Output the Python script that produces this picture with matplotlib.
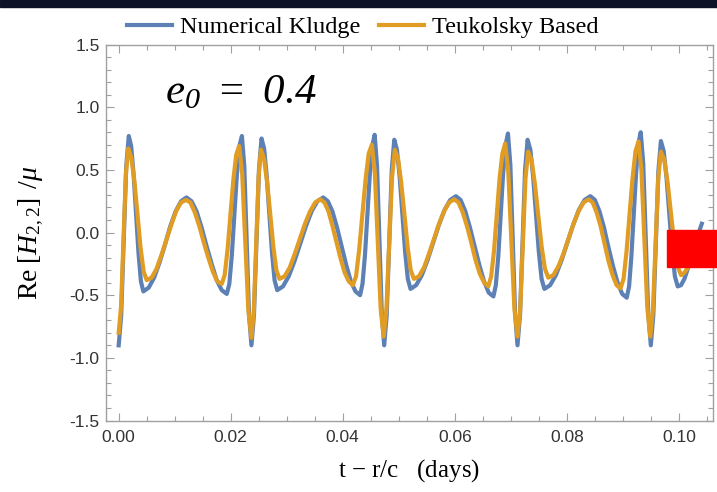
import matplotlib
matplotlib.use("Agg")
import matplotlib.pyplot as plt
from matplotlib.patches import Rectangle
from matplotlib.ticker import MultipleLocator, FormatStrFormatter
from matplotlib.lines import Line2D

# waveform values (time in days, Re[H22]/mu)
t_nk = [0.0, 0.00045, 0.0009, 0.00135, 0.0018,
        0.00223, 0.00267, 0.0031, 0.00353, 0.00397, 0.0044,
        0.00536, 0.00633, 0.00729, 0.00825, 0.00921, 0.01018, 0.01114, 0.0121,
        0.0130, 0.0139, 0.0148, 0.0157, 0.0166, 0.0175, 0.0184, 0.0193,
        0.01975, 0.0202, 0.02065, 0.0211, 0.02155, 0.0220,
        0.022425, 0.02285, 0.023275, 0.0237,
        0.02415, 0.0246, 0.02505, 0.0255,
        0.02597, 0.02643, 0.0269, 0.02737, 0.02783, 0.0283,
        0.02933, 0.03035, 0.03138, 0.0324, 0.03343, 0.03445, 0.03548, 0.0365,
        0.03733, 0.03815, 0.03898, 0.0398, 0.04063, 0.04145, 0.04228, 0.0431,
        0.04353, 0.04397, 0.0444, 0.04483, 0.04527, 0.0457,
        0.046125, 0.04655, 0.046975, 0.0474,
        0.04785, 0.0483, 0.04875, 0.0492,
        0.04968, 0.05017, 0.05065, 0.05113, 0.05162, 0.0521,
        0.05311, 0.05413, 0.05514, 0.05615, 0.05716, 0.05818, 0.05919, 0.0602,
        0.06104, 0.06188, 0.06271, 0.06355, 0.06439, 0.06523, 0.06606, 0.0669,
        0.06733, 0.06777, 0.0682, 0.06863, 0.06907, 0.0695,
        0.069925, 0.07035, 0.070775, 0.0712,
        0.07165, 0.0721, 0.07255, 0.0730,
        0.0735, 0.0740, 0.0745, 0.0750, 0.0755, 0.0760,
        0.07703, 0.07805, 0.07908, 0.0801, 0.08113, 0.08215, 0.08318, 0.0842,
        0.08501, 0.08583, 0.08664, 0.08745, 0.08826, 0.08908, 0.08989, 0.0907,
        0.09112, 0.09153, 0.09195, 0.09237, 0.09278, 0.0932,
        0.09365, 0.0941, 0.09455, 0.0950,
        0.09545, 0.0959, 0.09635, 0.0968,
        0.0973, 0.0978, 0.0983, 0.0988, 0.0993, 0.0998,
        0.1004, 0.1010, 0.1016, 0.1022, 0.1028, 0.1034, 0.1041]
h_nk = [-0.90, -0.66, -0.07, 0.53, 0.77,
        0.69, 0.46, 0.15, -0.16, -0.39, -0.47,
        -0.44, -0.36, -0.24, -0.10, 0.05, 0.17, 0.25, 0.28,
        0.25, 0.17, 0.04, -0.11, -0.25, -0.38, -0.46, -0.49,
        -0.41, -0.18, 0.14, 0.46, 0.69, 0.77,
        0.53, -0.07, -0.66, -0.90,
        -0.66, -0.08, 0.51, 0.75,
        0.67, 0.45, 0.15, -0.16, -0.38, -0.46,
        -0.43, -0.35, -0.23, -0.09, 0.05, 0.17, 0.25, 0.28,
        0.25, 0.17, 0.04, -0.11, -0.26, -0.39, -0.47, -0.50,
        -0.41, -0.18, 0.14, 0.46, 0.69, 0.78,
        0.53, -0.06, -0.65, -0.90,
        -0.66, -0.08, 0.50, 0.74,
        0.66, 0.44, 0.15, -0.15, -0.37, -0.45,
        -0.42, -0.34, -0.22, -0.08, 0.06, 0.18, 0.26, 0.29,
        0.26, 0.17, 0.04, -0.11, -0.26, -0.39, -0.48, -0.51,
        -0.42, -0.19, 0.14, 0.47, 0.70, 0.79,
        0.54, -0.06, -0.65, -0.90,
        -0.66, -0.08, 0.50, 0.74,
        0.66, 0.44, 0.15, -0.15, -0.37, -0.45,
        -0.42, -0.34, -0.22, -0.08, 0.06, 0.18, 0.26, 0.29,
        0.26, 0.17, 0.04, -0.12, -0.27, -0.40, -0.49, -0.52,
        -0.43, -0.19, 0.14, 0.47, 0.71, 0.80,
        0.55, -0.05, -0.65, -0.90,
        -0.66, -0.09, 0.49, 0.73,
        0.65, 0.44, 0.15, -0.14, -0.35, -0.43,
        -0.42, -0.37, -0.29, -0.20, -0.11, -0.02, 0.07]

t_tb = [0.0, 0.000425, 0.00085, 0.001275, 0.0017,
        0.00225, 0.0028, 0.00335, 0.0039, 0.00445, 0.0050,
        0.00588, 0.00675, 0.00763, 0.0085, 0.00938, 0.01025, 0.01113, 0.0120,
        0.0128, 0.0136, 0.0144, 0.0152, 0.0160, 0.0168, 0.0176, 0.0184,
        0.01892, 0.01943, 0.01995, 0.02047, 0.02098, 0.0215,
        0.02205, 0.0226, 0.02315, 0.0237,
        0.024125, 0.02455, 0.024975, 0.0254,
        0.02595, 0.0265, 0.02705, 0.0276, 0.02815, 0.0287,
        0.02961, 0.03053, 0.03144, 0.03235, 0.03326, 0.03418, 0.03509, 0.0360,
        0.03673, 0.03745, 0.03818, 0.0389, 0.03963, 0.04035, 0.04108, 0.0418,
        0.04237, 0.04293, 0.0435, 0.04407, 0.04463, 0.0452,
        0.045725, 0.04625, 0.046775, 0.0473,
        0.0478, 0.0483, 0.0488, 0.0493,
        0.04987, 0.05043, 0.0510, 0.05157, 0.05213, 0.0527,
        0.0536, 0.0545, 0.0554, 0.0563, 0.0572, 0.0581, 0.0590, 0.0599,
        0.06066, 0.06143, 0.06219, 0.06295, 0.06371, 0.06448, 0.06524, 0.0660,
        0.0665, 0.0670, 0.0675, 0.0680, 0.0685, 0.0690,
        0.06955, 0.0701, 0.07065, 0.0712,
        0.071675, 0.07215, 0.072625, 0.0731,
        0.0737, 0.0743, 0.0749, 0.0755, 0.0761, 0.0767,
        0.0776, 0.0785, 0.0794, 0.0803, 0.0812, 0.0821, 0.0830, 0.0839,
        0.08461, 0.08533, 0.08604, 0.08675, 0.08746, 0.08818, 0.08889, 0.0896,
        0.09013, 0.09067, 0.0912, 0.09173, 0.09227, 0.0928,
        0.093325, 0.09385, 0.094375, 0.0949,
        0.095375, 0.09585, 0.096325, 0.0968,
        0.0974, 0.0980, 0.0986, 0.0992, 0.0998, 0.1004,
        0.1010, 0.1017, 0.1024, 0.1032, 0.1041]
h_tb = [-0.80, -0.59, -0.07, 0.46, 0.67,
        0.60, 0.41, 0.15, -0.12, -0.31, -0.38,
        -0.36, -0.29, -0.18, -0.06, 0.06, 0.17, 0.24, 0.26,
        0.24, 0.16, 0.05, -0.08, -0.20, -0.31, -0.39, -0.41,
        -0.34, -0.14, 0.14, 0.42, 0.62, 0.69,
        0.47, -0.08, -0.62, -0.84,
        -0.62, -0.09, 0.44, 0.66,
        0.59, 0.40, 0.15, -0.11, -0.30, -0.37,
        -0.35, -0.28, -0.17, -0.05, 0.07, 0.17, 0.24, 0.265,
        0.24, 0.17, 0.05, -0.08, -0.21, -0.32, -0.39, -0.42,
        -0.35, -0.14, 0.14, 0.42, 0.63, 0.70,
        0.48, -0.07, -0.61, -0.83,
        -0.61, -0.09, 0.44, 0.66,
        0.59, 0.40, 0.15, -0.11, -0.30, -0.37,
        -0.35, -0.28, -0.17, -0.05, 0.07, 0.17, 0.24, 0.265,
        0.24, 0.16, 0.05, -0.08, -0.22, -0.33, -0.40, -0.43,
        -0.35, -0.15, 0.14, 0.43, 0.63, 0.71,
        0.49, -0.06, -0.61, -0.83,
        -0.62, -0.09, 0.43, 0.645,
        0.58, 0.39, 0.14, -0.11, -0.29, -0.36,
        -0.34, -0.27, -0.17, -0.05, 0.07, 0.17, 0.24, 0.265,
        0.24, 0.16, 0.05, -0.09, -0.23, -0.34, -0.42, -0.445,
        -0.37, -0.15, 0.14, 0.43, 0.65, 0.725,
        0.50, -0.05, -0.60, -0.83,
        -0.62, -0.09, 0.43, 0.645,
        0.58, 0.40, 0.15, -0.09, -0.27, -0.34,
        -0.32, -0.275, -0.20, -0.10, 0.0]

x_ticks = [0.00, 0.02, 0.04, 0.06, 0.08, 0.10]
y_ticks = [-1.5, -1.0, -0.5, 0.0, 0.5, 1.0, 1.5]

BLUE = "#5e81b5"
ORANGE = "#e19c24"
FRAME = "#a0a0a0"

plt.rcParams["mathtext.fontset"] = "custom"
plt.rcParams["mathtext.rm"] = "Liberation Serif"
plt.rcParams["mathtext.it"] = "Liberation Serif:italic"
plt.rcParams["mathtext.bf"] = "Liberation Serif:bold"
plt.rcParams["mathtext.sf"] = "Liberation Serif:italic"

fig = plt.figure(figsize=(7.17, 4.92), dpi=100)
ax = fig.add_axes([0.1478, 0.1453, 0.8466, 0.7642])

ax.plot(t_nk, h_nk, color=BLUE, lw=3.0, solid_joinstyle="round")
ax.plot(t_tb, h_tb, color=ORANGE, lw=3.0, solid_joinstyle="round")

ax.set_xlim(-0.00227, 0.1061)
ax.set_ylim(-1.5, 1.5)
ax.set_xticks(x_ticks)
ax.set_yticks(y_ticks)
ax.xaxis.set_minor_locator(MultipleLocator(0.005))
ax.yaxis.set_minor_locator(MultipleLocator(0.1))
ax.xaxis.set_major_formatter(FormatStrFormatter("%.2f"))
ax.yaxis.set_major_formatter(FormatStrFormatter("%.1f"))

for sp in ax.spines.values():
    sp.set_color(FRAME)
    sp.set_linewidth(1.0)
ax.tick_params(which="both", direction="in", top=True, right=True, color=FRAME, width=0.8)
ax.tick_params(which="major", length=6)
ax.tick_params(which="minor", length=3.5)
ax.tick_params(axis="x", pad=6.5)
ax.tick_params(axis="y", pad=4.5)
for lab in ax.get_xticklabels() + ax.get_yticklabels():
    lab.set_fontfamily("Liberation Sans")
    lab.set_fontsize(12.5)
    lab.set_color("#333333")

# parameter label, all italic
ax.text(0.097, 0.844, r"$\mathsf{e}_{\mathsf{0}}\mathsf{\ =\ 0.4}$",
        transform=ax.transAxes, fontsize=31, va="baseline", ha="left")

ax.set_ylabel(r"Re$\;[H_{2,2}]\;\,/\mu$", fontfamily="Liberation Serif", fontsize=20, labelpad=17)
ax.set_xlabel(r"t $-$ r/c   (days)", fontfamily="Liberation Serif", fontsize=18, labelpad=9)

handles = [Line2D([], [], color=BLUE, lw=3), Line2D([], [], color=ORANGE, lw=3)]
fig.legend(handles, ["Numerical Kludge", "Teukolsky Based"], loc="center",
           bbox_to_anchor=(0.506, 0.945), ncol=2, frameon=False,
           prop={"family": "Liberation Serif", "size": 17.5},
           handlelength=1.85, handletextpad=0.35, columnspacing=0.75)

# dark strip along the top edge and the red block at the right
fig.add_artist(Rectangle((0, 1 - 7 / 492), 1, 7 / 492, transform=fig.transFigure,
                         color="#0d1226", zorder=5))
fig.add_artist(Rectangle((667 / 717, 1 - 267 / 492), 50 / 717, 37 / 492,
                         transform=fig.transFigure, color="#ff0000", zorder=5))

fig.savefig("out.png", dpi=100)
